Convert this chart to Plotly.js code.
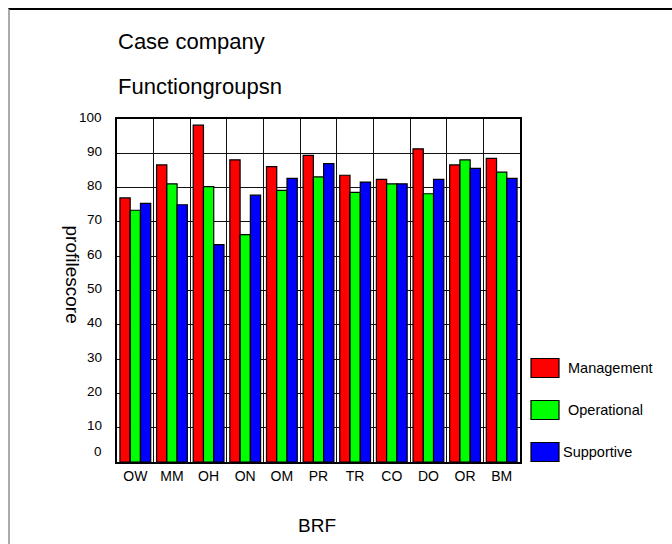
<!DOCTYPE html>
<html>
<head>
<meta charset="utf-8">
<script src="https://cdn.plot.ly/plotly-3.0.1.min.js"></script>
<style>
  html, body { margin: 0; padding: 0; background: #fff; }
  #frame { position: absolute; left: 8px; top: 8px; width: 664px; height: 536px;
           border-top: 2px solid #000; border-left: 2px solid #aaa; box-sizing: border-box; }
  #chart { position: absolute; left: 0; top: 0; width: 672px; height: 544px; }
</style>
</head>
<body>
<div id="frame"></div>
<div id="chart"></div>
<script>
const categories = ["OW", "MM", "OH", "ON", "OM", "PR", "TR", "CO", "DO", "OR", "BM"];
const management  = [77, 86.6, 98.2, 88.1, 86.1, 89.4, 83.6, 82.4, 91.3, 86.6, 88.5];
const operational = [73.4, 81.1, 80.3, 66.3, 79.2, 83.1, 78.6, 81.1, 78.2, 88.1, 84.5];
const supportive  = [75.4, 75.0, 63.4, 77.8, 82.7, 87.0, 81.6, 81.1, 82.4, 85.6, 82.7];
const seriesNames = ["Management", "Operational", "Supportive"];
const seriesColors = ["#ff0000", "#00ff00", "#0000ff"];
const yTicks = [0, 10, 20, 30, 40, 50, 60, 70, 80, 90, 100];

const FONT = "Liberation Sans, Arial, sans-serif";
const L = 117, R = 520, T = 119, B = 462;
const W = 672, H = 544;
const px = x => (x - L) / (R - L);
const py = y => (B - y) / (B - T);

const values = [management, operational, supportive];
const traces = values.map((v, i) => ({
  type: "bar",
  name: seriesNames[i],
  x: categories,
  y: v,
  marker: { color: seriesColors[i], line: { color: "#000", width: 1.2 } },
  showlegend: false,
  hoverinfo: "x+y+name"
}));

// custom legend (boxes + labels)
const legendY = [368, 410, 452];
const legendTextX = [566, 566, 561];
const shapes = [];
const annotations = [];
legendY.forEach((cy, i) => {
  shapes.push({
    type: "rect", xref: "paper", yref: "paper",
    x0: px(531), x1: px(559), y0: py(cy - 9.5), y1: py(cy + 9.5),
    fillcolor: seriesColors[i], line: { color: "#000", width: 1.2 }
  });
  annotations.push({
    xref: "paper", yref: "paper", x: px(legendTextX[i]), y: py(cy),
    xanchor: "left", yanchor: "middle", showarrow: false,
    text: seriesNames[i], font: { family: FONT, size: 14.5, color: "#000" }
  });
});

// y tick labels (the 0 label sits above the axis line, as in the reference)
yTicks.forEach(v => {
  annotations.push({
    xref: "paper", yref: "y", x: px(104), y: v,
    xanchor: "right", yanchor: "middle", showarrow: false,
    yshift: v === 0 ? 11 : 2,
    text: String(v), font: { family: FONT, size: 13.5, color: "#000" }
  });
});

annotations.push(
  { xref: "paper", yref: "paper", x: px(116), y: py(42), xanchor: "left", yanchor: "middle",
    showarrow: false, text: "Case company", font: { family: FONT, size: 22, color: "#000" } },
  { xref: "paper", yref: "paper", x: px(116), y: py(86), xanchor: "left", yanchor: "middle",
    showarrow: false, text: "Functiongroupsn", font: { family: FONT, size: 22, color: "#000" } },
  { xref: "paper", yref: "paper", x: px(72.5), y: py(274), xanchor: "center", yanchor: "middle",
    textangle: 90, showarrow: false, text: "profilescore", font: { family: FONT, size: 19, color: "#000" } },
  { xref: "paper", yref: "paper", x: px(317), y: py(525), xanchor: "center", yanchor: "middle",
    showarrow: false, text: "BRF", font: { family: FONT, size: 19, color: "#000" } }
);

const layout = {
  width: W, height: H,
  margin: { l: L, r: W - R, t: T, b: H - B, pad: 0 },
  paper_bgcolor: "rgba(0,0,0,0)",
  plot_bgcolor: "#ffffff",
  barmode: "group",
  bargap: 0.16,
  bargroupgap: 0,
  font: { family: FONT, color: "#000" },
  showlegend: false,
  xaxis: {
    type: "category",
    tickson: "boundaries",
    showgrid: true, gridcolor: "#111", gridwidth: 1,
    showline: true, linecolor: "#000", linewidth: 2, mirror: true,
    ticks: "", tickfont: { family: FONT, size: 14, color: "#000" },
    zeroline: false, fixedrange: true
  },
  yaxis: {
    range: [0, 100],
    tickvals: yTicks,
    showticklabels: false,
    showgrid: true, gridcolor: "#111", gridwidth: 1,
    showline: true, linecolor: "#000", linewidth: 2, mirror: true,
    ticks: "",
    zeroline: false, fixedrange: true
  },
  shapes: shapes,
  annotations: annotations
};

Plotly.newPlot("chart", traces, layout, { displayModeBar: false, staticPlot: true });
</script>
</body>
</html>
